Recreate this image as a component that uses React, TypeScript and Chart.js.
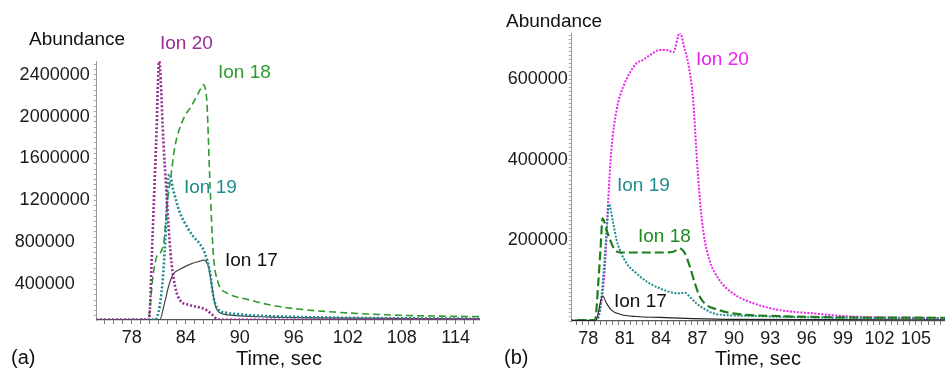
import React, { useEffect, useRef } from "react";
import { Chart, registerables } from "chart.js";

Chart.register(...registerables);

const FONT = "'Liberation Sans', Arial, Helvetica, sans-serif";

// ---------- Panel (a) data ----------
const ion20aT = [74, 79.9, 80.3, 80.7, 81.05, 81.5, 81.9, 82.3, 82.8, 83.3, 84.4, 85.6, 86.3, 86.9, 87.4, 88, 117];
const ion20aV = [62000, 62000, 850000, 1740000, 2527000, 1781000, 1210000, 702000, 384000, 257000, 203000, 178000, 155000, 114000, 73000, 62000, 62000];

const ion18aT = [74, 79.8, 80.4, 80.8, 81.2, 81.6, 81.9, 82.3, 82.8, 83.7, 84.6, 85.6, 85.9, 86.3, 86.7, 87.05, 87.6, 88.5, 89.3, 90.8, 93, 96.7, 100.5, 104.2, 107.9, 111.6, 117];
const ion18aV = [62000, 65000, 511000, 670000, 702000, 829000, 1146000, 1400000, 1717000, 1971000, 2098000, 2257000, 2305000, 2193000, 1336000, 702000, 416000, 321000, 289000, 257000, 210000, 162000, 136000, 117000, 105000, 98000, 92000];

const ion19aT = [74, 80.6, 81.1, 81.5, 81.8, 82.0, 82.2, 82.6, 83.35, 84.1, 84.8, 85.6, 86.1, 86.7, 87.05, 87.6, 88.5, 90, 93, 97, 105, 117];
const ion19aV = [62000, 64000, 193000, 511000, 955000, 1368000, 1448000, 1305000, 1083000, 955000, 860000, 781000, 702000, 511000, 289000, 162000, 130000, 114000, 98000, 88000, 78000, 72000];

const ion17aT = [74, 81.1, 81.65, 82.1, 82.6, 83.35, 84.45, 85.6, 86.0, 86.5, 86.9, 87.3, 87.8, 89.3, 93, 100, 117];
const ion17aV = [62000, 63000, 225000, 384000, 495000, 543000, 590000, 622000, 631000, 574000, 384000, 193000, 130000, 105000, 90000, 80000, 70000];

// ---------- Panel (b) data ----------
const ion20bT = [76, 78.55, 78.96, 79.37, 79.64, 79.9, 80.33, 80.88, 81.4, 81.98, 82.5, 83.07, 83.9, 84.45, 85.0, 85.54, 85.96, 86.23, 86.64, 86.9, 87.2, 87.5, 87.99, 88.8, 89.9, 91.6, 93.8, 96.5, 99.2, 102, 108];
const ion20bV = [1000, 1000, 27000, 135000, 300000, 425000, 524000, 582000, 615000, 640000, 648000, 660000, 673000, 673000, 667000, 716000, 673000, 640000, 549000, 425000, 300000, 218000, 151000, 102000, 69000, 44000, 27000, 19000, 12000, 9000, 7000];

const ion19bT = [76, 78.7, 78.96, 79.23, 79.5, 79.7, 80.05, 80.33, 80.6, 81.16, 81.98, 82.8, 83.9, 85.0, 85.54, 85.96, 86.37, 86.9, 87.74, 88.56, 91, 96.5, 108];
const ion19bV = [2000, 2000, 27000, 110000, 218000, 290000, 243000, 201000, 176000, 143000, 118000, 98000, 81000, 70000, 69000, 70000, 60000, 44000, 27000, 17000, 13000, 9000, 6000];

const ion18bT = [76, 78.55, 78.82, 79.0, 79.18, 79.5, 79.8, 80.2, 80.75, 82.5, 83.9, 85.0, 85.54, 85.96, 86.37, 86.78, 87.19, 87.74, 88.56, 89.9, 93.8, 99.2, 108];
const ion18bV = [2000, 2000, 94000, 176000, 255000, 226000, 201000, 176000, 170000, 170000, 170000, 172000, 180000, 168000, 135000, 94000, 60000, 40000, 29000, 19000, 12000, 9000, 8000];

const ion17bT = [76, 78.6, 79.18, 79.5, 79.9, 80.6, 81.98, 83.9, 86.6, 90, 108];
const ion17bV = [1000, 1000, 62000, 44000, 27000, 17000, 11000, 9000, 6000, 4000, 3000];

// axis ranges / tick steps
const xRangeA = [74.1, 116.7];
const yRangeA = [60000, 2530000];
const xRangeB = [76.63, 107.4];
const yRangeB = [0, 715000];

const pts = (t: number[], v: number[]) => t.map((x, i) => ({ x, y: v[i] }));

type TextItem = { text: string; x: number; y: number; color: string; size: number; align?: CanvasTextAlign };

function textPlugin(items: TextItem[]) {
  return {
    id: "texts",
    afterDraw(chart: any) {
      const ctx = chart.ctx;
      ctx.save();
      for (const it of items) {
        ctx.font = `${it.size}px ${FONT}`;
        ctx.fillStyle = it.color;
        ctx.textAlign = it.align || "left";
        ctx.textBaseline = "alphabetic";
        ctx.fillText(it.text, it.x, it.y);
      }
      ctx.restore();
    },
  };
}

type PanelSpec = {
  datasets: any[];
  xMin: number; xMax: number; xMinor: number; xMajor: number; xFirstLabel: number;
  yMin: number; yMax: number; yMinor: number; yMajor: number; yPad7: boolean;
  yWidth: number; xHeight: number; top: number; yLabelPad: number;
  texts: TextItem[];
};

function buildConfig(p: PanelSpec): any {
  return {
    type: "line",
    data: { datasets: p.datasets },
    options: {
      responsive: false,
      animation: false,
      events: [],
      parsing: true,
      layout: { padding: { top: p.top, left: 0, right: 0, bottom: 0 } },
      plugins: { legend: { display: false }, tooltip: { enabled: false } },
      elements: { point: { radius: 0 }, line: { cubicInterpolationMode: "monotone" } },
      scales: {
        x: {
          type: "linear",
          min: p.xMin,
          max: p.xMax,
          afterBuildTicks: (scale: any) => {
            const ticks = [];
            const start = Math.ceil(p.xMin / p.xMinor);
            const end = Math.floor(p.xMax / p.xMinor);
            for (let i = start; i <= end; i++) ticks.push({ value: i * p.xMinor });
            scale.ticks = ticks;
          },
          afterFit: (scale: any) => { scale.height = p.xHeight; },
          ticks: {
            autoSkip: false,
            maxRotation: 0,
            padding: 3,
            color: "#1a1a1a",
            font: { size: 18, family: FONT },
            callback: (v: number) =>
              v >= p.xFirstLabel && Math.abs(v % p.xMajor) < 1e-6 ? String(v) : "",
          },
          grid: { drawOnChartArea: false, drawTicks: true, tickLength: 4, color: "#777", lineWidth: 1 },
          border: { display: true, color: "#555", width: 1.2 },
        },
        y: {
          type: "linear",
          min: p.yMin,
          max: p.yMax,
          afterBuildTicks: (scale: any) => {
            const ticks = [];
            const start = Math.ceil(p.yMin / p.yMinor);
            const end = Math.floor(p.yMax / p.yMinor);
            for (let i = start; i <= end; i++) ticks.push({ value: i * p.yMinor });
            scale.ticks = ticks;
          },
          afterFit: (scale: any) => { scale.width = p.yWidth; },
          ticks: {
            autoSkip: false,
            padding: p.yLabelPad,
            color: "#1a1a1a",
            font: { size: 18, family: FONT },
            callback: (v: number) => {
              if (v <= 0 || v % p.yMajor !== 0) return "";
              let s = String(v);
              if (p.yPad7 && s.length < 7) s += "   ";
              return s;
            },
          },
          grid: { drawOnChartArea: false, drawTicks: true, tickLength: 3, color: "#aaa", lineWidth: 1 },
          border: { display: true, color: "#999", width: 1 },
        },
      },
    },
    plugins: [textPlugin(p.texts)],
  };
}

const panelA: PanelSpec = {
  datasets: [
    { label: "Ion 20", data: pts(ion20aT, ion20aV), borderColor: "#942b93", borderWidth: 2.6, borderDash: [2, 2], fill: false },
    { label: "Ion 19", data: pts(ion19aT, ion19aV), borderColor: "#1f8a8c", borderWidth: 2.6, borderDash: [2, 2], fill: false },
    { label: "Ion 17", data: pts(ion17aT, ion17aV), borderColor: "#444444", borderWidth: 1.2, fill: false },
    { label: "Ion 18", data: pts(ion18aT, ion18aV), borderColor: "#2f9a2f", borderWidth: 1.6, borderDash: [7, 4], fill: false },
  ],
  xMin: xRangeA[0], xMax: xRangeA[1], xMinor: 1, xMajor: 6, xFirstLabel: 78,
  yMin: yRangeA[0], yMax: yRangeA[1], yMinor: 50000, yMajor: 400000, yPad7: true,
  yWidth: 96.7, xHeight: 48, top: 61, yLabelPad: 4,
  texts: [
    { text: "Abundance", x: 29, y: 45, color: "#111", size: 19 },
    { text: "(a)", x: 11, y: 364, color: "#111", size: 20 },
    { text: "Time, sec", x: 279, y: 365, color: "#111", size: 20, align: "center" },
    { text: "Ion 20", x: 160, y: 49, color: "#9a2b96", size: 19 },
    { text: "Ion 18", x: 218, y: 78, color: "#2e9b2e", size: 19 },
    { text: "Ion 19", x: 184, y: 193, color: "#1f8c8c", size: 19 },
    { text: "Ion 17", x: 225, y: 266, color: "#111", size: 19 },
  ],
};

const panelB: PanelSpec = {
  datasets: [
    { label: "Ion 17", data: pts(ion17bT, ion17bV), borderColor: "#222222", borderWidth: 1.1, fill: false },
    { label: "Ion 18", data: pts(ion18bT, ion18bV), borderColor: "#1f7f1f", borderWidth: 2.2, borderDash: [9, 4], fill: false },
    { label: "Ion 19", data: pts(ion19bT, ion19bV), borderColor: "#1f8c8c", borderWidth: 2, borderDash: [2, 1.5], fill: false },
    { label: "Ion 20", data: pts(ion20bT, ion20bV), borderColor: "#ee22ee", borderWidth: 2, borderDash: [2, 1.5], fill: false },
  ],
  xMin: xRangeB[0], xMax: xRangeB[1], xMinor: 0.5, xMajor: 3, xFirstLabel: 78,
  yMin: yRangeB[0], yMax: yRangeB[1], yMinor: 10000, yMajor: 200000, yPad7: false,
  yWidth: 91.7, xHeight: 47, top: 33, yLabelPad: 1,
  texts: [
    { text: "Abundance", x: 26, y: 27, color: "#111", size: 19 },
    { text: "(b)", x: 24, y: 364, color: "#111", size: 20 },
    { text: "Time, sec", x: 278, y: 365, color: "#111", size: 20, align: "center" },
    { text: "Ion 20", x: 216, y: 65, color: "#ee22ee", size: 19 },
    { text: "Ion 19", x: 137, y: 191, color: "#1f8c8c", size: 19 },
    { text: "Ion 18", x: 158, y: 242, color: "#1f8a1f", size: 19 },
    { text: "Ion 17", x: 134, y: 307, color: "#111", size: 19 },
  ],
};

function Panel({ spec, left, width }: { spec: PanelSpec; left: number; width: number }) {
  const ref = useRef<HTMLCanvasElement | null>(null);
  useEffect(() => {
    if (!ref.current) return;
    const chart = new Chart(ref.current, buildConfig(spec));
    return () => chart.destroy();
  }, [spec]);
  return (
    <canvas
      ref={ref}
      width={width}
      height={368}
      style={{ position: "absolute", left, top: 0, width, height: 368, display: "block" }}
    />
  );
}

export default function App() {
  return (
    <div style={{ position: "absolute", left: 0, top: 0, width: 945, height: 368, background: "#fff" }}>
      <Panel spec={panelA} left={0} width={480} />
      <Panel spec={panelB} left={480} width={465} />
    </div>
  );
}
